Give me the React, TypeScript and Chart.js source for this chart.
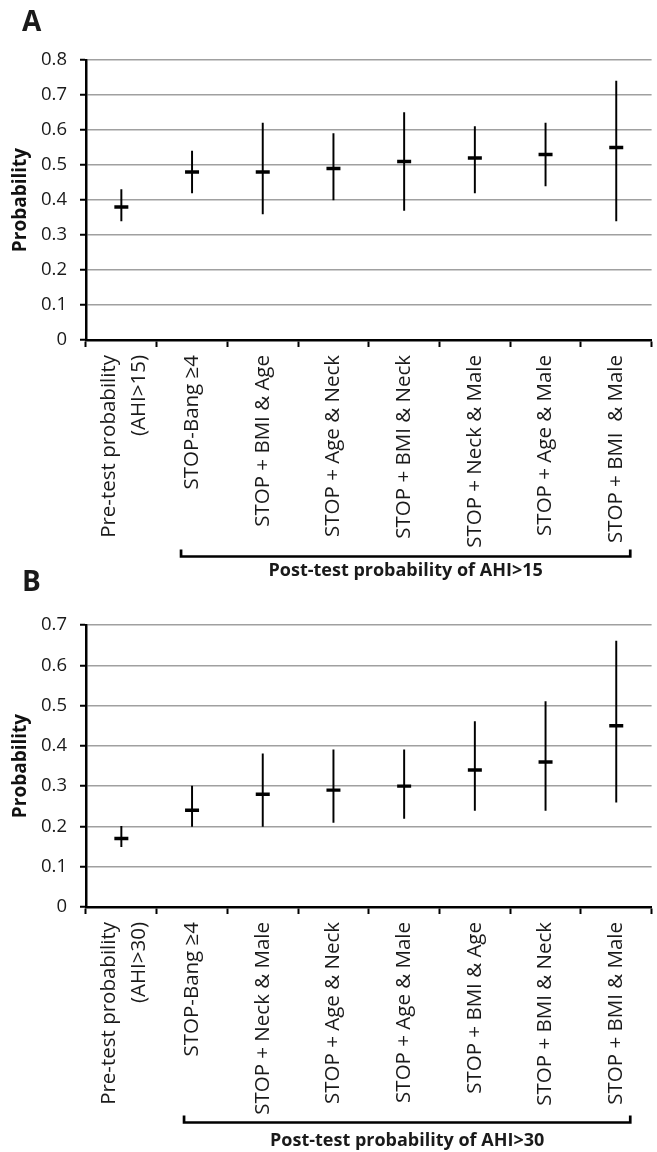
import React, { useEffect, useRef } from 'react';
import { Chart, registerables } from 'chart.js';

Chart.register(...registerables);

const FONT = "'Open Sans', 'Noto Sans', sans-serif";

// Panel A data
const categoriesA: (string | string[])[] = [
  ['Pre-test probability', '(AHI>15)'],
  'STOP-Bang \u22654',
  'STOP + BMI & Age',
  'STOP + Age & Neck',
  'STOP + BMI & Neck',
  'STOP + Neck & Male',
  'STOP + Age & Male',
  'STOP + BMI  & Male',
];
const meanA = [0.38, 0.48, 0.48, 0.49, 0.51, 0.52, 0.53, 0.55];
const lowA = [0.34, 0.42, 0.36, 0.40, 0.37, 0.42, 0.44, 0.34];
const highA = [0.43, 0.54, 0.62, 0.59, 0.65, 0.61, 0.62, 0.74];
const tickValuesA = [0, 0.1, 0.2, 0.3, 0.4, 0.5, 0.6, 0.7, 0.8];
const tickLabelsA = ['0', '0.1', '0.2', '0.3', '0.4', '0.5', '0.6', '0.7', '0.8'];

// Panel B data
const categoriesB: (string | string[])[] = [
  ['Pre-test probability', '(AHI>30)'],
  'STOP-Bang \u22654',
  'STOP + Neck & Male',
  'STOP + Age & Neck',
  'STOP + Age & Male',
  'STOP + BMI & Age',
  'STOP + BMI & Neck',
  'STOP + BMI & Male',
];
const meanB = [0.17, 0.24, 0.28, 0.29, 0.30, 0.34, 0.36, 0.45];
const lowB = [0.15, 0.20, 0.20, 0.21, 0.22, 0.24, 0.24, 0.26];
const highB = [0.20, 0.30, 0.38, 0.39, 0.39, 0.46, 0.51, 0.66];
const tickValuesB = [0, 0.1, 0.2, 0.3, 0.4, 0.5, 0.6, 0.7];
const tickLabelsB = ['0', '0.1', '0.2', '0.3', '0.4', '0.5', '0.6', '0.7'];

interface PanelProps {
  letter: string;
  caption: string;
  categories: (string | string[])[];
  mean: number[];
  low: number[];
  high: number[];
  tickValues: number[];
  tickLabels: string[];
  top: number;
  height: number;
  areaTop: number;
  xHeight: number;
  bracketY: number;
  captionY: number;
  bracketLeft: number;
}

function Panel(p: PanelProps) {
  const ref = useRef<HTMLCanvasElement | null>(null);
  useEffect(() => {
    if (!ref.current) return;
    const decor = {
      id: 'decor',
      afterDraw(chart: any) {
        const ctx = chart.ctx;
        const xs = chart.scales.x;
        ctx.save();
        // panel letter
        ctx.fillStyle = '#1a1a1a';
        ctx.font = `bold 28px ${FONT}`;
        ctx.textAlign = 'left';
        ctx.textBaseline = 'middle';
        ctx.fillText(p.letter, 22, 23);

        // rotated category labels
        ctx.font = `20.5px ${FONT}`;
        ctx.fillStyle = '#1a1a1a';
        const yStart = xs.top + 15;
        p.categories.forEach((lab, i) => {
          const px = xs.getPixelForValue(i);
          const lines = Array.isArray(lab) ? lab : [lab];
          const offs = lines.length === 2 ? [-12.5, 18] : [0];
          lines.forEach((ln, j) => {
            ctx.save();
            ctx.translate(px + offs[j], yStart);
            ctx.rotate(-Math.PI / 2);
            ctx.textAlign = 'right';
            ctx.textBaseline = 'middle';
            ctx.fillText(ln, 0, 0);
            ctx.restore();
          });
        });

        // bracket
        const x1 = xs.getPixelForValue(1) + p.bracketLeft;
        const x2 = xs.getPixelForValue(7) + 14;
        ctx.strokeStyle = '#000';
        ctx.lineWidth = 2.7;
        ctx.lineCap = 'butt';
        ctx.beginPath();
        ctx.moveTo(x1, p.bracketY - 7);
        ctx.lineTo(x1, p.bracketY);
        ctx.lineTo(x2, p.bracketY);
        ctx.lineTo(x2, p.bracketY - 7);
        ctx.stroke();
        ctx.fillStyle = '#1a1a1a';
        ctx.font = `bold 18px ${FONT}`;
        ctx.textAlign = 'center';
        ctx.textBaseline = 'middle';
        ctx.fillText(p.caption, (x1 + x2) / 2, p.captionY);
        ctx.restore();
      },
    };
    const chart = new Chart(ref.current, {
      type: 'bar',
      data: {
        labels: p.categories as any,
        datasets: [
          {
            type: 'bar',
            data: p.low.map((l, i) => [l, p.high[i]]) as any,
            backgroundColor: '#000',
            borderWidth: 0,
            barThickness: 1.3,
            grouped: false,
            order: 2,
          } as any,
          {
            type: 'line',
            data: p.mean,
            showLine: false,
            pointStyle: 'line',
            pointRadius: 7,
            pointHoverRadius: 7,
            pointBorderWidth: 3.4,
            pointBorderColor: '#000',
            borderColor: '#000',
            order: 1,
          } as any,
        ],
      },
      options: {
        responsive: false,
        animation: false,
        events: [],
        layout: { padding: { top: p.areaTop, left: 0, right: 1, bottom: 0 } },
        plugins: { legend: { display: false }, tooltip: { enabled: false } },
        scales: {
          x: {
            offset: true,
            grid: {
              offset: true,
              drawOnChartArea: false,
              tickLength: 7,
              tickColor: '#000',
              tickWidth: 2,
            },
            border: { color: '#000', width: 2.5 },
            ticks: { display: false },
            afterFit: (s: any) => {
              s.height = p.xHeight;
            },
          },
          y: {
            min: 0,
            max: p.tickValues[p.tickValues.length - 1],
            afterBuildTicks: (s: any) => {
              s.ticks = p.tickValues.map((v) => ({ value: v }));
            },
            ticks: {
              callback: (_v: any, i: number) => p.tickLabels[i],
              padding: 13,
              color: '#1a1a1a',
              font: { family: FONT, size: 18.5 },
            },
            grid: {
              color: (c: any) => (c.tick && c.tick.value === 0 ? 'rgba(0,0,0,0)' : '#a0a0a0'),
              tickColor: '#000',
              tickLength: 6,
              tickWidth: 2,
              lineWidth: 1.5,
            },
            border: { color: '#000', width: 2.5 },
            title: {
              display: true,
              text: 'Probability',
              color: '#111',
              font: { family: FONT, size: 19, weight: 'bold' },
              padding: { top: 9, bottom: 0 },
            },
            afterFit: (s: any) => {
              s.width = 86;
            },
          },
        },
      },
      plugins: [decor],
    });
    return () => chart.destroy();
  }, []);
  return (
    <canvas
      ref={ref}
      width={662}
      height={p.height}
      style={{ position: 'absolute', left: 0, top: p.top, width: 662, height: p.height }}
    />
  );
}

export default function App() {
  return (
    <div
      style={{
        position: 'absolute',
        left: 0,
        top: 0,
        width: 657,
        height: 1152,
        overflow: 'hidden',
        background: '#fff',
      }}
    >
      <Panel
        letter="A"
        caption="Post-test probability of AHI>15"
        categories={categoriesA}
        mean={meanA}
        low={lowA}
        high={highA}
        tickValues={tickValuesA}
        tickLabels={tickLabelsA}
        top={0}
        height={600}
        areaTop={60}
        xHeight={260}
        bracketY={556.5}
        captionY={571}
        bracketLeft={-11}
      />
      <Panel
        letter="B"
        caption="Post-test probability of AHI>30"
        categories={categoriesB}
        mean={meanB}
        low={lowB}
        high={highB}
        tickValues={tickValuesB}
        tickLabels={tickLabelsB}
        top={560}
        height={592}
        areaTop={65}
        xHeight={245}
        bracketY={562.5}
        captionY={581}
        bracketLeft={-8}
      />
    </div>
  );
}
